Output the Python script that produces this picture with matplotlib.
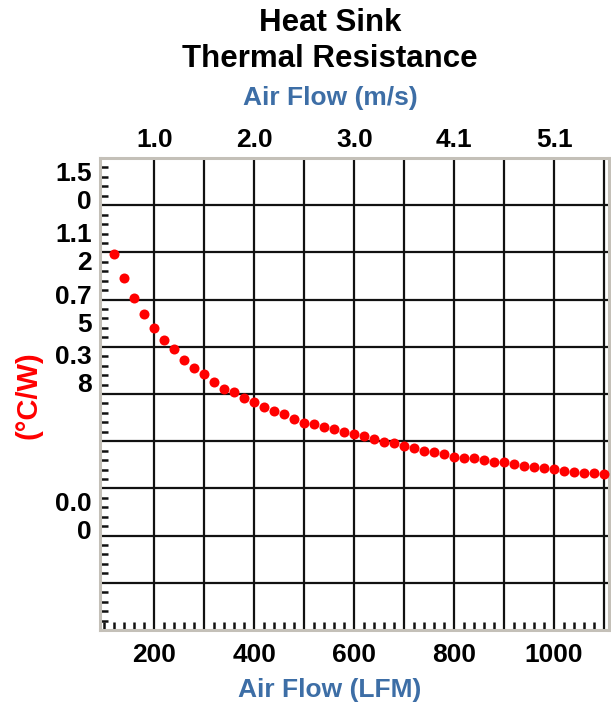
import matplotlib
matplotlib.use("Agg")
import matplotlib.pyplot as plt
import numpy as np
from matplotlib.ticker import FixedLocator, MultipleLocator, NullFormatter

plt.rcParams['font.family'] = ['Liberation Sans', 'DejaVu Sans']
plt.rcParams['font.weight'] = 'bold'

# Air flow (LFM) and thermal resistance (°C/W)
air_flow_lfm = np.arange(120, 1101, 20)
resistance = [
    1.195, 1.118, 1.054, 1.003, 0.959, 0.922, 0.892, 0.858, 0.834, 0.813,
    0.787, 0.766, 0.755, 0.736, 0.724, 0.710, 0.696, 0.686, 0.672, 0.659,
    0.655, 0.645, 0.639, 0.630, 0.623, 0.615, 0.607, 0.598, 0.593, 0.585,
    0.577, 0.570, 0.565, 0.558, 0.551, 0.548, 0.546, 0.540, 0.535, 0.533,
    0.528, 0.521, 0.518, 0.514, 0.512, 0.506, 0.503, 0.500, 0.498, 0.496,
]

x_labels = [200, 400, 600, 800, 1000]
top_labels = ['1.0', '2.0', '3.0', '4.1', '5.1']
# the y tick labels are wrapped onto two lines in the source chart
y_label_text = ['1.5\n0', '1.1\n2', '0.7\n5', '0.3\n8', '0.0\n0']
y_label_pos = [1.405, 1.211, 1.014, 0.822, 0.356]

W, H = 611, 711
fig = plt.figure(figsize=(W / 100, H / 100), dpi=100)
ax = fig.add_axes([100 / W, 1 - 630 / H, 509 / W, 472 / H])

ax.scatter(air_flow_lfm, resistance, s=52, color='#ff0000', zorder=3, linewidths=0)

ax.set_xlim(91, 1110)
ax.set_ylim(0, 1.5)

# grid on major ticks, small inward ticks as minors
ax.xaxis.set_major_locator(FixedLocator(np.arange(200, 1101, 100)))
ax.xaxis.set_minor_locator(MultipleLocator(20))
ax.yaxis.set_major_locator(FixedLocator(np.arange(0.15, 1.4, 0.15)))
ax.yaxis.set_minor_locator(MultipleLocator(0.03))
ax.set_xticklabels([str(v) if v in x_labels else '' for v in range(200, 1101, 100)])
ax.yaxis.set_major_formatter(NullFormatter())
ax.tick_params(axis='both', which='major', length=0, labelsize=19, pad=9)
ax.tick_params(axis='both', which='minor', direction='in', length=6, width=1.8, color='#111111')
ax.grid(True, which='major', color='#111111', linewidth=1.6)

for sp in ax.spines.values():
    sp.set_color('#c4c0b8')
    sp.set_linewidth(2.2)

for txt, pos in zip(y_label_text, y_label_pos):
    ax.text(-8 / 509, pos, txt, transform=ax.get_yaxis_transform(), ha='right',
            va='center', fontsize=19, fontweight='bold', linespacing=1.2)

# top axis in m/s
top = ax.secondary_xaxis('top', functions=(lambda v: v * 0.00508, lambda v: v / 0.00508))
top.set_xticks([v * 0.00508 for v in x_labels])
top.set_xticklabels(top_labels)
top.tick_params(length=0, labelsize=19, pad=4)
top.spines['top'].set_visible(False)

cx = 330 / W
fig.text(cx, 1 - 41 / H, 'Heat Sink\nThermal Resistance', ha='center', va='center',
         fontsize=22.5, fontweight='bold', linespacing=1.22)
fig.text(cx, 1 - 98 / H, 'Air Flow (m/s)', ha='center', va='center',
         fontsize=19, fontweight='bold', color='#3d6ea6')
fig.text(cx, 1 - 690 / H, 'Air Flow (LFM)', ha='center', va='center',
         fontsize=19, fontweight='bold', color='#3d6ea6')
fig.text(29 / W, 1 - 395 / H, '(°C/W)', ha='center', va='center', rotation=90,
         fontsize=21, fontweight='bold', color='#ff0000')

fig.savefig('out.png', dpi=100)
